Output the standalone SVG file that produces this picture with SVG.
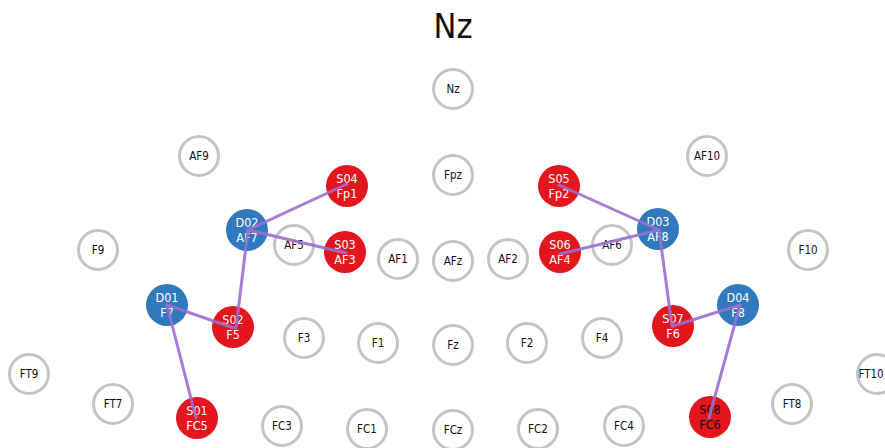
<svg xmlns="http://www.w3.org/2000/svg" width="885" height="448" viewBox="0 0 885 448">
<style>
text{font-family:"DejaVu Sans Condensed","Liberation Sans",sans-serif;text-anchor:middle}
.g circle{fill:#fff;stroke:#c4c4c4;stroke-width:3}
.g text{font-size:11.5px;fill:#111;dominant-baseline:central}
.s circle{fill:#e3161d}
.d circle{fill:#3079bd}
.s text,.d text{font-size:12.5px;fill:#fff}
.title{font-size:34px;fill:#111}
#connectors line{stroke:#9b6fd0;stroke-width:3;stroke-opacity:0.9;stroke-linecap:round}
</style>
<text class="title" x="453" y="38">Nz</text>
<g id="n-Nz" class="g"><circle cx="453" cy="89" r="19.5"/><text x="453" y="89">Nz</text></g>
<g id="n-AF9" class="g"><circle cx="199" cy="156" r="19.5"/><text x="199" y="156">AF9</text></g>
<g id="n-Fpz" class="g"><circle cx="453" cy="175" r="19.5"/><text x="453" y="175">Fpz</text></g>
<g id="n-AF10" class="g"><circle cx="707" cy="156" r="19.5"/><text x="707" y="156">AF10</text></g>
<g id="n-F9" class="g"><circle cx="98" cy="250" r="19.5"/><text x="98" y="250">F9</text></g>
<g id="n-AF5" class="g"><circle cx="294" cy="245" r="19.5"/><text x="294" y="245">AF5</text></g>
<g id="n-AF1" class="g"><circle cx="398" cy="259" r="19.5"/><text x="398" y="259">AF1</text></g>
<g id="n-AFz" class="g"><circle cx="453" cy="261" r="19.5"/><text x="453" y="261">AFz</text></g>
<g id="n-AF2" class="g"><circle cx="508" cy="259" r="19.5"/><text x="508" y="259">AF2</text></g>
<g id="n-AF6" class="g"><circle cx="612" cy="245" r="19.5"/><text x="612" y="245">AF6</text></g>
<g id="n-F10" class="g"><circle cx="808" cy="250" r="19.5"/><text x="808" y="250">F10</text></g>
<g id="n-F3" class="g"><circle cx="304" cy="338" r="19.5"/><text x="304" y="338">F3</text></g>
<g id="n-F1" class="g"><circle cx="378" cy="343" r="19.5"/><text x="378" y="343">F1</text></g>
<g id="n-Fz" class="g"><circle cx="453" cy="345" r="19.5"/><text x="453" y="345">Fz</text></g>
<g id="n-F2" class="g"><circle cx="527" cy="343" r="19.5"/><text x="527" y="343">F2</text></g>
<g id="n-F4" class="g"><circle cx="602" cy="338" r="19.5"/><text x="602" y="338">F4</text></g>
<g id="n-FT9" class="g"><circle cx="29" cy="374" r="19.5"/><text x="29" y="374">FT9</text></g>
<g id="n-FT10" class="g"><circle cx="877" cy="374" r="19.5"/><text x="871" y="374">FT10</text></g>
<g id="n-FT7" class="g"><circle cx="113" cy="404" r="19.5"/><text x="113" y="404">FT7</text></g>
<g id="n-FT8" class="g"><circle cx="792" cy="404" r="19.5"/><text x="792" y="404">FT8</text></g>
<g id="n-FC3" class="g"><circle cx="282" cy="426" r="19.5"/><text x="282" y="426">FC3</text></g>
<g id="n-FC1" class="g"><circle cx="367" cy="429" r="19.5"/><text x="367" y="429">FC1</text></g>
<g id="n-FCz" class="g"><circle cx="453" cy="430" r="19.5"/><text x="453" y="430">FCz</text></g>
<g id="n-FC2" class="g"><circle cx="538" cy="429" r="19.5"/><text x="538" y="429">FC2</text></g>
<g id="n-FC4" class="g"><circle cx="624" cy="426" r="19.5"/><text x="624" y="426">FC4</text></g>
<g id="n-S04" class="s"><circle cx="347" cy="186" r="21"/><text x="347" y="183">S04</text><text x="347" y="198">Fp1</text></g>
<g id="n-S03" class="s"><circle cx="345" cy="252" r="21"/><text x="345" y="249">S03</text><text x="345" y="264">AF3</text></g>
<g id="n-S05" class="s"><circle cx="559" cy="186" r="21"/><text x="559" y="183">S05</text><text x="559" y="198">Fp2</text></g>
<g id="n-S06" class="s"><circle cx="560" cy="252" r="21"/><text x="560" y="249">S06</text><text x="560" y="264">AF4</text></g>
<g id="n-S02" class="s"><circle cx="233" cy="327" r="21"/><text x="233" y="324">S02</text><text x="233" y="339">F5</text></g>
<g id="n-S07" class="s"><circle cx="673" cy="326" r="21"/><text x="673" y="323">S07</text><text x="673" y="338">F6</text></g>
<g id="n-S01" class="s"><circle cx="197" cy="418" r="21"/><text x="197" y="415">S01</text><text x="197" y="430">FC5</text></g>
<g id="n-S08" class="s"><circle cx="710" cy="417" r="21"/><text x="710" y="414" style="fill:#111">S08</text><text x="710" y="429" style="fill:#111">FC6</text></g>
<g id="n-D02" class="d"><circle cx="247" cy="230" r="21"/><text x="247" y="227">D02</text><text x="247" y="242">AF7</text></g>
<g id="n-D03" class="d"><circle cx="658" cy="229" r="21"/><text x="658" y="226">D03</text><text x="658" y="241">AF8</text></g>
<g id="n-D01" class="d"><circle cx="167" cy="305" r="21"/><text x="167" y="302">D01</text><text x="167" y="317">F7</text></g>
<g id="n-D04" class="d"><circle cx="738" cy="305" r="21"/><text x="738" y="302">D04</text><text x="738" y="317">F8</text></g>
<g id="connectors">
<line x1="248" y1="230" x2="347" y2="184"/>
<line x1="248" y1="230" x2="346" y2="253"/>
<line x1="248" y1="230" x2="236" y2="328"/>
<line x1="167" y1="305" x2="234" y2="328"/>
<line x1="167" y1="305" x2="196" y2="418"/>
<line x1="659" y1="230" x2="559" y2="185"/>
<line x1="659" y1="230" x2="560" y2="254"/>
<line x1="659" y1="230" x2="672" y2="326"/>
<line x1="740" y1="305" x2="673" y2="326"/>
<line x1="740" y1="305" x2="709" y2="418"/>
</g>
</svg>
